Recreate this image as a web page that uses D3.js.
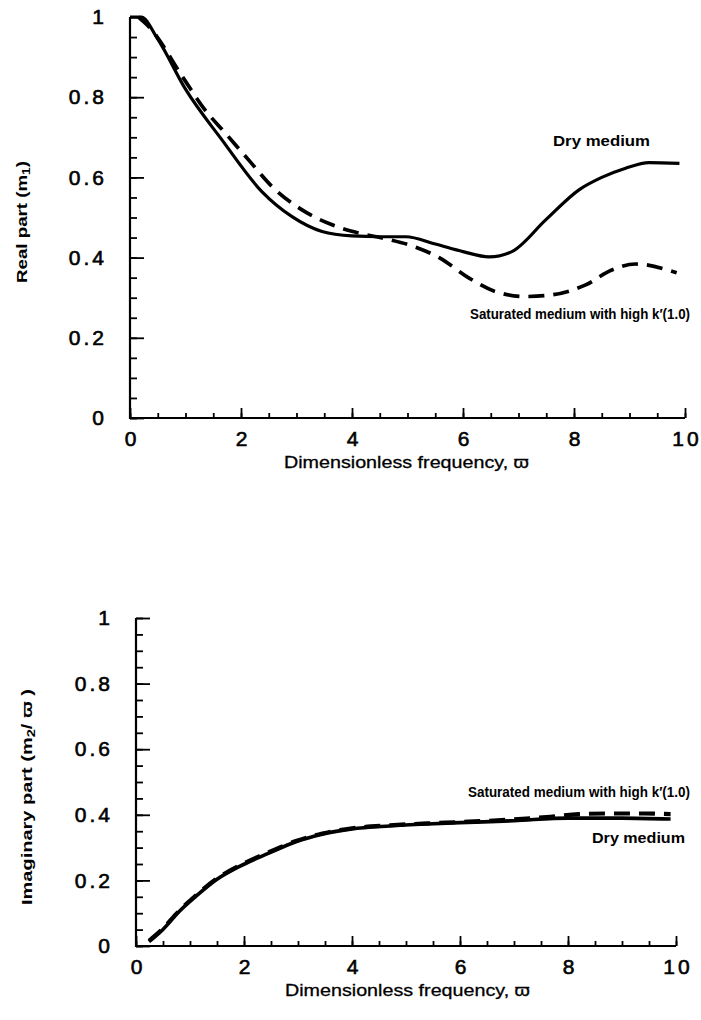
<!DOCTYPE html>
<html>
<head>
<meta charset="utf-8">
<script src="https://cdn.jsdelivr.net/npm/d3@7"></script>
<style>
  body { margin: 0; background: #fff; }
  svg { display: block; }
  text { font-family: "Liberation Sans", Arial, sans-serif; fill: #000; }
</style>
</head>
<body>
<div class="canvas"></div>
<script>

// ---- data ----
var tickLabels = ["0", "0.2", "0.4", "0.6", "0.8", "1"];
var yMajor = [0, 0.2, 0.4, 0.6, 0.8, 1];
var xLabels = ["0", "2", "4", "6", "8", "10"];
var xMajor = [0, 2, 4, 6, 8, 10];

// real part, dry medium (solid)
var realDryX = [0, 0.2, 0.5, 1.0, 1.66, 2.38, 2.92, 3.46, 4.0, 4.5, 4.97, 5.5, 6.0, 6.47, 6.88, 7.49, 8.09, 8.5, 8.93, 9.35, 9.9];
var realDryY = [1, 1, 0.945, 0.82, 0.693, 0.564, 0.502, 0.465, 0.454, 0.452, 0.452, 0.434, 0.415, 0.402, 0.415, 0.494, 0.569, 0.6, 0.623, 0.637, 0.635];

// real part, saturated medium high k' (dashed)
var realSatX = [0.15, 0.34, 0.95, 1.33, 1.72, 2.14, 2.56, 3.1, 3.62, 4.13, 4.6, 5.09, 5.57, 6.11, 6.59, 7.13, 7.6, 8.21, 8.68, 9.11, 9.85];
var realSatY = [1, 0.976, 0.85, 0.772, 0.71, 0.643, 0.577, 0.519, 0.483, 0.461, 0.447, 0.429, 0.4, 0.349, 0.315, 0.303, 0.307, 0.332, 0.369, 0.384, 0.362];

// imaginary part, dry medium (solid)
var imagDryX = [0.24, 0.49, 0.8, 1.1, 1.48, 1.91, 2.46, 2.96, 3.45, 4.0, 4.7, 5.4, 6.0, 7.0, 8.0, 9.0, 9.9];
var imagDryY = [0.013, 0.049, 0.105, 0.15, 0.201, 0.242, 0.283, 0.318, 0.341, 0.357, 0.366, 0.372, 0.376, 0.382, 0.39, 0.39, 0.387];

// imaginary part, saturated medium (dashed)
var imagSatX = [0.24, 0.49, 0.8, 1.1, 1.48, 1.91, 2.46, 2.96, 3.45, 4.0, 4.7, 5.4, 6.0, 7.0, 7.6, 8.2, 8.8, 9.4, 9.9];
var imagSatY = [0.016, 0.052, 0.108, 0.153, 0.204, 0.245, 0.286, 0.32, 0.343, 0.359, 0.368, 0.374, 0.378, 0.386, 0.393, 0.402, 0.404, 0.404, 0.402];

var W = 701, H = 1020;

var svg = d3.select(".canvas")
  .append("svg")
  .attr("width", W)
  .attr("height", H);

var zip = function(xs, ys) {
  return xs.map(function(x, i) { return [x, ys[i]]; });
};

var draw_panel = function(opt) {

  var x = d3.scaleLinear().domain([0, 10]).range([opt.left, opt.right]);
  var y = d3.scaleLinear().domain([0, 1]).range([opt.bottom, opt.top]);

  var g = svg.append("g");

  // minor ticks
  g.append("g")
    .attr("transform", "translate(" + opt.left + ",0)")
    .call(d3.axisLeft(y).tickValues(d3.range(0, 1.001, 0.05)).tickSize(-7).tickFormat(""))
    .call(function(a) { a.select(".domain").remove(); });

  g.append("g")
    .attr("transform", "translate(0," + opt.bottom + ")")
    .call(d3.axisBottom(x).tickValues(d3.range(0, 10.001, 0.5)).tickSize(-5).tickFormat(""))
    .call(function(a) { a.select(".domain").remove(); });

  // major ticks + labels
  var ya = g.append("g")
    .attr("transform", "translate(" + opt.left + ",0)")
    .call(d3.axisLeft(y).tickValues(yMajor).tickSize(-14).tickPadding(23)
      .tickFormat(function(d, i) { return tickLabels[i]; }));

  var xa = g.append("g")
    .attr("transform", "translate(0," + opt.bottom + ")")
    .call(d3.axisBottom(x).tickValues(xMajor).tickSize(-10).tickPadding(13)
      .tickFormat(function(d, i) { return xLabels[i]; }));

  [ya, xa].forEach(function(a) {
    a.select(".domain").remove();
    a.selectAll("text")
      .style("font-size", "21px")
      .style("letter-spacing", "3px")
      .style("stroke", "#000")
      .style("stroke-width", 0.6)
      .attr("font-family", null);
  });
  xa.selectAll("text").attr("dx", "1.5px");

  g.selectAll(".tick line").attr("stroke", "#000").attr("stroke-width", 1.8);

  // axis lines (left + bottom only)
  g.append("path")
    .attr("d", "M" + opt.left + "," + opt.top + "V" + opt.bottom + "H" + opt.right)
    .attr("fill", "none")
    .attr("stroke", "#000")
    .attr("stroke-width", 2.2);

  var line = d3.line()
    .x(function(d) { return x(d[0]); })
    .y(function(d) { return y(d[1]); })
    .curve(d3.curveMonotoneX);

  g.append("path")
    .datum(zip(opt.dryX, opt.dryY))
    .attr("d", line)
    .attr("fill", "none")
    .attr("stroke", "#000")
    .attr("stroke-width", opt.lw)
    .attr("stroke-linejoin", "round");

  g.append("path")
    .datum(zip(opt.satX, opt.satY))
    .attr("d", line)
    .attr("fill", "none")
    .attr("stroke", "#000")
    .attr("stroke-width", opt.lw + 0.5)
    .attr("stroke-dasharray", "16,9");

  // x title
  g.append("text")
    .attr("x", opt.xtx)
    .attr("y", opt.bottom + 50)
    .attr("textLength", 245)
    .attr("lengthAdjust", "spacingAndGlyphs")
    .style("font-size", "17px")
    .style("stroke", "#000")
    .style("stroke-width", 0.3)
    .text("Dimensionless frequency, \u03D6");

  // y title
  g.append("text")
    .attr("transform", "translate(" + opt.ytx + "," + opt.yty + ")rotate(-90)")
    .attr("textLength", opt.ylen)
    .attr("lengthAdjust", "spacingAndGlyphs")
    .style("font-size", "15px")
    .style("font-weight", "bold")
    .html(opt.ytitle);

  opt.notes.forEach(function(n) {
    g.append("text")
      .attr("x", n[1])
      .attr("y", n[2])
      .attr("textLength", n[3])
      .attr("lengthAdjust", "spacingAndGlyphs")
      .style("font-size", "14px")
      .style("font-weight", "bold")
      .text(n[0]);
  });
};

draw_panel({
  left: 130, right: 685, top: 17, bottom: 418,
  dryX: realDryX, dryY: realDryY, satX: realSatX, satY: realSatY,
  lw: 3.2,
  xtx: 284,
  ytx: 27, yty: 283, ylen: 122,
  ytitle: 'Real part (m<tspan dy="3" font-size="11">1</tspan><tspan dy="-3">)</tspan>',
  notes: [["Dry medium", 553, 146, 97], ["Saturated medium with high k\u2032(1.0)", 470, 319, 220]]
});

draw_panel({
  left: 136, right: 676, top: 618, bottom: 946,
  dryX: imagDryX, dryY: imagDryY, satX: imagSatX, satY: imagSatY,
  lw: 3.6,
  xtx: 285,
  ytx: 32, yty: 905, ylen: 216,
  ytitle: 'Imaginary part (m<tspan dy="3" font-size="11">2</tspan><tspan dy="-3">/ \u03D6 )</tspan>',
  notes: [["Saturated medium with high k\u2032(1.0)", 468, 797, 222], ["Dry medium", 592, 843, 93]]
});

</script>
</body>
</html>
